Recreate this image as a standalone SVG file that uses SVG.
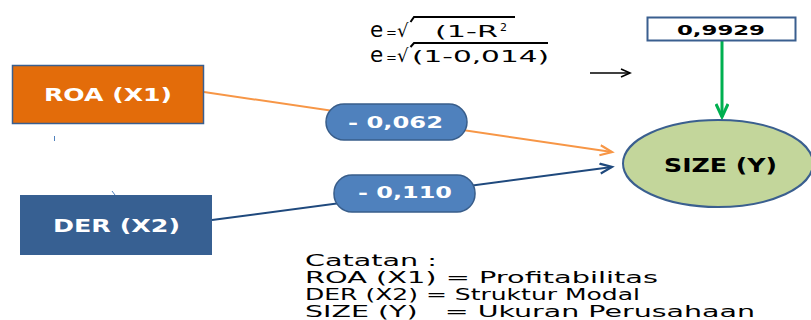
<svg xmlns="http://www.w3.org/2000/svg" width="811" height="320" viewBox="0 0 811 320">
<style>
.b{font-family:"DejaVu Sans","Liberation Sans",sans-serif;font-weight:bold}
.n{font-family:"DejaVu Sans","Liberation Sans",sans-serif}
.w{fill:#fff}
.k{fill:#000}
</style>
<defs>
<marker id="ao" markerUnits="userSpaceOnUse" markerWidth="16" markerHeight="14" refX="13" refY="6" orient="auto">
<path d="M1,1 L13,6 L1,11" fill="none" stroke="#F79646" stroke-width="2.2"/>
</marker>
<marker id="ab" markerUnits="userSpaceOnUse" markerWidth="16" markerHeight="14" refX="13" refY="6" orient="auto">
<path d="M1,1 L13,6 L1,11" fill="none" stroke="#1F497D" stroke-width="2.2"/>
</marker>
<marker id="ag" markerUnits="userSpaceOnUse" markerWidth="18" markerHeight="14" refX="14" refY="7" orient="auto">
<path d="M1,1 L14,7 L1,13" fill="none" stroke="#00B050" stroke-width="3"/>
</marker>
<marker id="ak" markerUnits="userSpaceOnUse" markerWidth="12" markerHeight="10" refX="10" refY="5" orient="auto">
<path d="M1,1 L10,5 L1,9" fill="none" stroke="#000" stroke-width="1.6"/>
</marker>
</defs>
<rect width="811" height="320" fill="#fff"/>

<g id="equation">
<text class="n k" y="37"><tspan x="370" font-size="21.5">e</tspan><tspan x="386" font-size="13">=</tspan><tspan x="397" font-size="18">√</tspan><tspan x="435" font-size="15.5" textLength="63" lengthAdjust="spacingAndGlyphs">(1-R</tspan><tspan x="500" dy="-6" font-size="11">2</tspan></text>
<polyline points="410.5,22 414,17 515,17" fill="none" stroke="#000" stroke-width="2"/>
<text class="n k" y="62"><tspan x="370" font-size="21.5">e</tspan><tspan x="386" font-size="13">=</tspan><tspan x="397" font-size="18">√</tspan><tspan x="412" font-size="16" textLength="137" lengthAdjust="spacingAndGlyphs">(1-0,014)</tspan></text>
<polyline points="410.5,47 414,43 548,43" fill="none" stroke="#000" stroke-width="2"/>
</g>

<g id="connectors">
<line x1="204" y1="92" x2="612" y2="152" stroke="#F79646" stroke-width="2" marker-end="url(#ao)"/>
<line x1="212" y1="220" x2="612" y2="167" stroke="#1F497D" stroke-width="2" marker-end="url(#ab)"/>
<line x1="722" y1="41" x2="722" y2="117" stroke="#00B050" stroke-width="3" marker-end="url(#ag)"/>
<line x1="590" y1="73" x2="630" y2="73" stroke="#000" stroke-width="1.5" marker-end="url(#ak)"/>
<line x1="54.5" y1="136" x2="54.5" y2="141" stroke="#4F81BD" stroke-width="1"/>
<line x1="112" y1="191" x2="115" y2="195" stroke="#4F81BD" stroke-width="1"/>
</g>

<g id="roa">
<rect x="12.5" y="65.5" width="191" height="58" fill="#E36C0A" stroke="#3A5F8F" stroke-width="1.5"/>
<text class="b w" x="44" y="101" font-size="17" textLength="128" lengthAdjust="spacingAndGlyphs">ROA (X1)</text>
</g>

<g id="der">
<rect x="20" y="195" width="192" height="60" fill="#376092"/>
<text class="b w" x="53" y="232" font-size="17.5" textLength="127" lengthAdjust="spacingAndGlyphs">DER (X2)</text>
</g>

<g id="size">
<ellipse cx="718" cy="163.5" rx="95" ry="43.5" fill="#C3D69B" stroke="#3A5F8F" stroke-width="2"/>
<text class="b k" x="664" y="172" font-size="19" textLength="113" lengthAdjust="spacingAndGlyphs">SIZE (Y)</text>
</g>

<g id="error">
<rect x="647.5" y="17.5" width="148" height="23" fill="#fff" stroke="#3A5F8F" stroke-width="2"/>
<text class="b k" x="677" y="35" font-size="14" textLength="88" lengthAdjust="spacingAndGlyphs">0,9929</text>
</g>

<g id="label1">
<rect x="326" y="104" width="141" height="36" rx="18" fill="#4F81BD" stroke="#385D8A" stroke-width="1.5"/>
<text class="b w" x="348" y="128" font-size="16" textLength="95" lengthAdjust="spacingAndGlyphs">- 0,062</text>
</g>

<g id="label2">
<rect x="334" y="175" width="141" height="37" rx="18" fill="#4F81BD" stroke="#385D8A" stroke-width="1.5"/>
<text class="b w" x="358" y="198" font-size="16" textLength="94" lengthAdjust="spacingAndGlyphs">- 0,110</text>
</g>

<g id="notes">
<text class="n k" x="305" y="266" font-size="15.5" textLength="132" lengthAdjust="spacingAndGlyphs">Catatan :</text>
<text class="n k" x="305" y="283" font-size="15.5" textLength="353" lengthAdjust="spacingAndGlyphs">ROA (X1) = Profitabilitas</text>
<text class="n k" x="305" y="300" font-size="15.5" textLength="335" lengthAdjust="spacingAndGlyphs">DER (X2) = Struktur Modal</text>
<text class="n k" x="305" y="317" font-size="15.5" xml:space="preserve" textLength="450" lengthAdjust="spacingAndGlyphs">SIZE (Y)   = Ukuran Perusahaan</text>
</g>
</svg>
